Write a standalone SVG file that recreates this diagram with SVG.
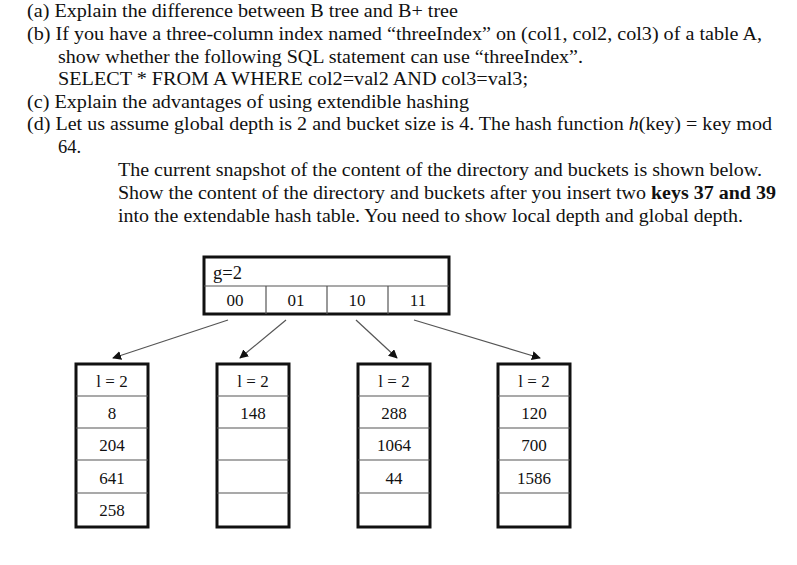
<svg xmlns="http://www.w3.org/2000/svg" width="797" height="565" viewBox="0 0 797 565">
<style>
text{font-family:"Liberation Serif","Times New Roman",serif;fill:#111}
.q{font-size:18.5px}
.c{font-size:17px;text-anchor:middle}
.box{fill:#fff;stroke:#111;stroke-width:3}
.ln{stroke:#555;stroke-width:1.2}
.ar{stroke:#555;stroke-width:1.2;fill:none;marker-end:url(#ah)}
</style>
<defs><marker id="ah" viewBox="0 0 10 10" refX="9" refY="5" markerWidth="9" markerHeight="9" markerUnits="userSpaceOnUse" orient="auto"><path d="M0,0L10,5L0,10z" fill="#111"/></marker></defs>
<rect width="797" height="565" fill="#fff"/>
<g id="question">
<text class="q" x="27" y="17" textLength="431" lengthAdjust="spacingAndGlyphs">(a) Explain the difference between B tree and B+ tree</text>
<text class="q" x="27" y="40" textLength="735" lengthAdjust="spacingAndGlyphs">(b) If you have a three-column index named “threeIndex” on (col1, col2, col3) of a table A,</text>
<text class="q" x="58" y="63" textLength="525" lengthAdjust="spacingAndGlyphs">show whether the following SQL statement can use “threeIndex”.</text>
<text class="q" x="58" y="85" textLength="470" lengthAdjust="spacingAndGlyphs">SELECT * FROM A WHERE col2=val2 AND col3=val3;</text>
<text class="q" x="27" y="108" textLength="442" lengthAdjust="spacingAndGlyphs">(c) Explain the advantages of using extendible hashing</text>
<text class="q" x="27" y="130" textLength="745" lengthAdjust="spacingAndGlyphs">(d) Let us assume global depth is 2 and bucket size is 4. The hash function <tspan font-style="italic">h</tspan>(key) = key mod</text>
<text class="q" x="58" y="153">64.</text>
<text class="q" x="118" y="176" textLength="644" lengthAdjust="spacingAndGlyphs">The current snapshot of the content of the directory and buckets is shown below.</text>
<text class="q" x="118" y="199" textLength="658" lengthAdjust="spacingAndGlyphs">Show the content of the directory and buckets after you insert two <tspan font-weight="bold">keys 37 and 39</tspan></text>
<text class="q" x="118" y="222" textLength="625" lengthAdjust="spacingAndGlyphs">into the extendable hash table. You need to show local depth and global depth.</text>
</g>
<g id="directory">
<rect class="box" x="204" y="257" width="245" height="57"/>
<line class="ln" x1="204" y1="286" x2="449" y2="286"/>
<line class="ln" x1="266" y1="286" x2="266" y2="314"/>
<line class="ln" x1="327" y1="286" x2="327" y2="314"/>
<line class="ln" x1="388" y1="286" x2="388" y2="314"/>
<text class="q" x="213" y="279">g=2</text>
<text class="c" x="235" y="306">00</text>
<text class="c" x="296" y="306">01</text>
<text class="c" x="357" y="306">10</text>
<text class="c" x="418" y="306">11</text>
</g>
<g id="connectors">
<line class="ar" x1="228" y1="320" x2="113" y2="358"/>
<line class="ar" x1="286" y1="320" x2="240" y2="358"/>
<line class="ar" x1="356" y1="320" x2="397" y2="358"/>
<line class="ar" x1="414" y1="320" x2="540" y2="358"/>
</g>
<g id="bucket1">
<rect class="box" x="76" y="364" width="72" height="163"/>
<line class="ln" x1="76" y1="396" x2="148" y2="396"/><line class="ln" x1="76" y1="428" x2="148" y2="428"/><line class="ln" x1="76" y1="460" x2="148" y2="460"/><line class="ln" x1="76" y1="493" x2="148" y2="493"/>
<text class="c" x="112" y="387">l = 2</text><text class="c" x="112" y="419">8</text><text class="c" x="112" y="451">204</text><text class="c" x="112" y="484">641</text><text class="c" x="112" y="516">258</text>
</g>
<g id="bucket2">
<rect class="box" x="217" y="364" width="72" height="163"/>
<line class="ln" x1="217" y1="396" x2="289" y2="396"/><line class="ln" x1="217" y1="428" x2="289" y2="428"/><line class="ln" x1="217" y1="460" x2="289" y2="460"/><line class="ln" x1="217" y1="493" x2="289" y2="493"/>
<text class="c" x="253" y="387">l = 2</text><text class="c" x="253" y="419">148</text>
</g>
<g id="bucket3">
<rect class="box" x="358" y="364" width="72" height="163"/>
<line class="ln" x1="358" y1="396" x2="430" y2="396"/><line class="ln" x1="358" y1="428" x2="430" y2="428"/><line class="ln" x1="358" y1="460" x2="430" y2="460"/><line class="ln" x1="358" y1="493" x2="430" y2="493"/>
<text class="c" x="394" y="387">l = 2</text><text class="c" x="394" y="419">288</text><text class="c" x="394" y="451">1064</text><text class="c" x="394" y="484">44</text>
</g>
<g id="bucket4">
<rect class="box" x="498" y="364" width="72" height="163"/>
<line class="ln" x1="498" y1="396" x2="570" y2="396"/><line class="ln" x1="498" y1="428" x2="570" y2="428"/><line class="ln" x1="498" y1="460" x2="570" y2="460"/><line class="ln" x1="498" y1="493" x2="570" y2="493"/>
<text class="c" x="534" y="387">l = 2</text><text class="c" x="534" y="419">120</text><text class="c" x="534" y="451">700</text><text class="c" x="534" y="484">1586</text>
</g>
</svg>
